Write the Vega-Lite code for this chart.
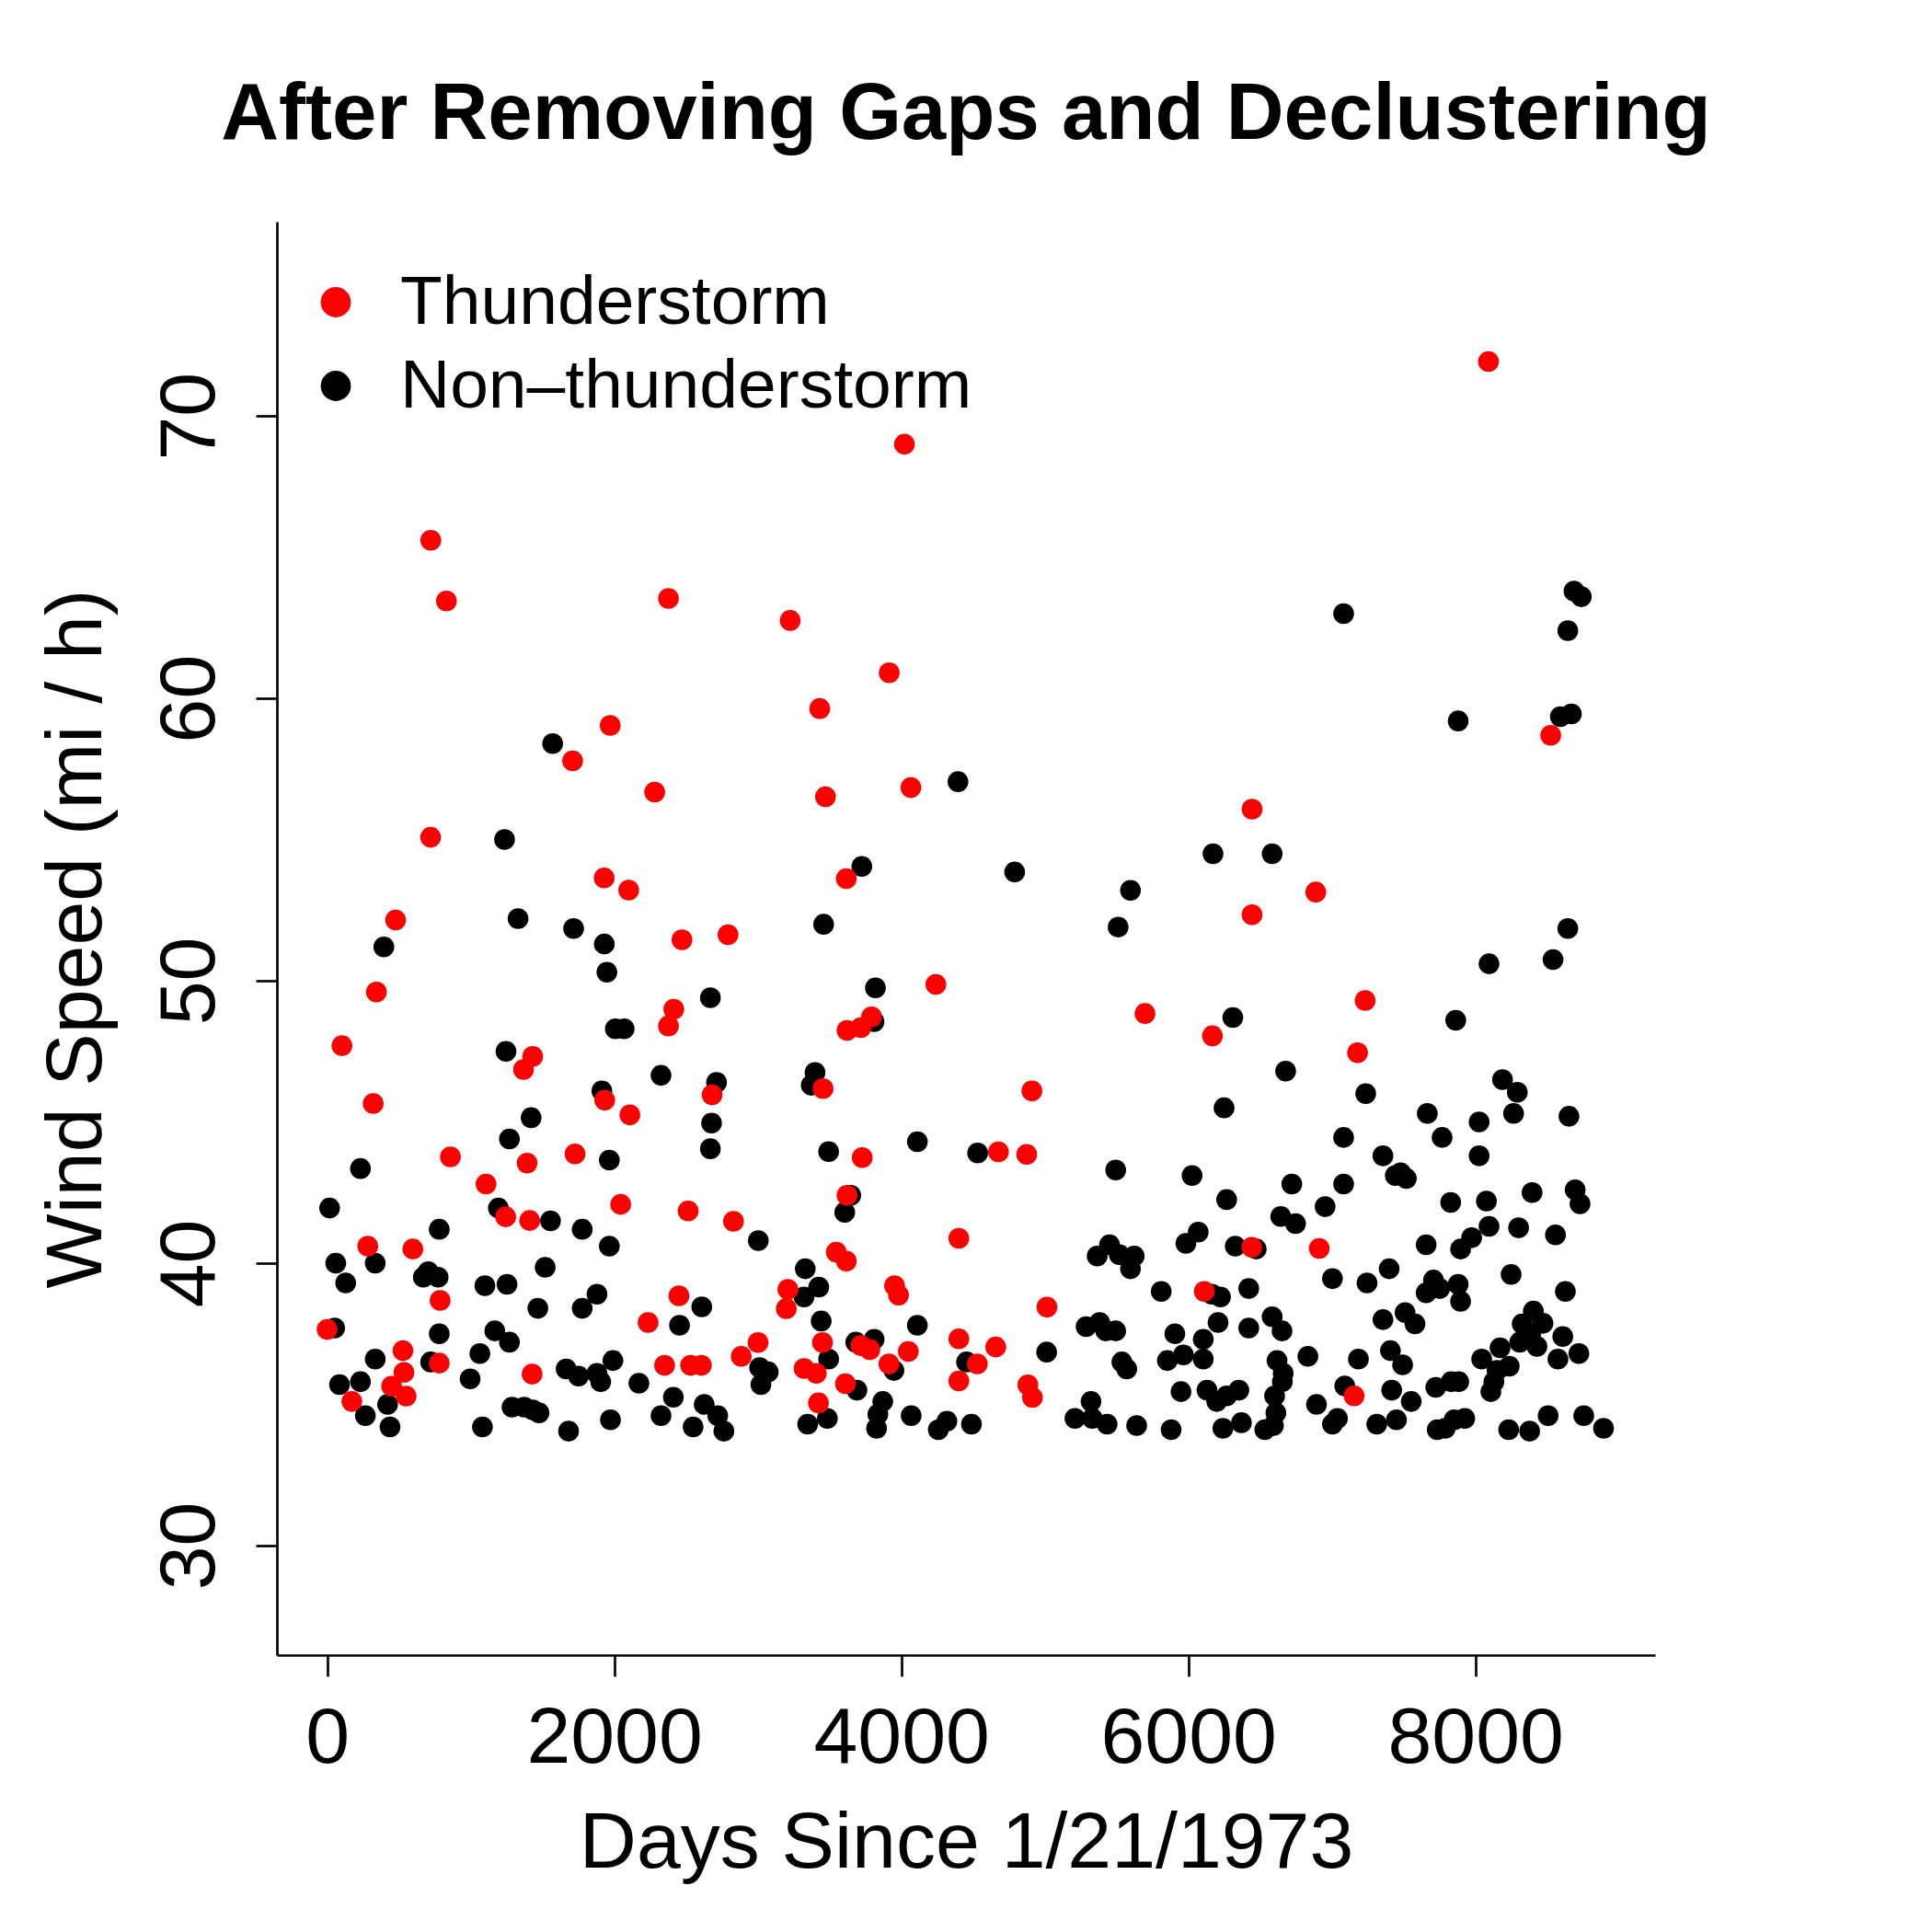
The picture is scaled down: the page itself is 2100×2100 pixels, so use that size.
{
"$schema": "https://vega.github.io/schema/vega-lite/v6.json",
"width": 1498, "height": 1558,
"autosize": {"type": "none"},
"padding": {"left": 301, "top": 241, "right": 301, "bottom": 301},
"background": "white",
"title": {"text": "After Removing Gaps and Declustering", "font": "Liberation Sans", "fontSize": 87, "fontWeight": "bold", "anchor": "middle", "frame": "group", "baseline": "alphabetic", "offset": 3, "color": "black"},
"data": {"values": [
{"d":17,"w":41.95,"t":"Non–thunderstorm"},{"d":52,"w":37.7,"t":"Non–thunderstorm"},{"d":60,"w":40.0,"t":"Non–thunderstorm"},{"d":86,"w":35.7,"t":"Non–thunderstorm"},{"d":129,"w":39.3,"t":"Non–thunderstorm"},{"d":232,"w":43.35,"t":"Non–thunderstorm"},{"d":232,"w":35.8,"t":"Non–thunderstorm"},{"d":266,"w":34.6,"t":"Non–thunderstorm"},{"d":335,"w":36.6,"t":"Non–thunderstorm"},{"d":335,"w":40.0,"t":"Non–thunderstorm"},{"d":395,"w":51.2,"t":"Non–thunderstorm"},{"d":421,"w":35.0,"t":"Non–thunderstorm"},{"d":438,"w":34.2,"t":"Non–thunderstorm"},{"d":670,"w":39.5,"t":"Non–thunderstorm"},{"d":704,"w":39.7,"t":"Non–thunderstorm"},{"d":721,"w":36.5,"t":"Non–thunderstorm"},{"d":773,"w":39.5,"t":"Non–thunderstorm"},{"d":781,"w":41.2,"t":"Non–thunderstorm"},{"d":781,"w":37.5,"t":"Non–thunderstorm"},{"d":996,"w":35.9,"t":"Non–thunderstorm"},{"d":1064,"w":36.8,"t":"Non–thunderstorm"},{"d":1082,"w":34.2,"t":"Non–thunderstorm"},{"d":1099,"w":39.2,"t":"Non–thunderstorm"},{"d":1168,"w":37.6,"t":"Non–thunderstorm"},{"d":1193,"w":41.95,"t":"Non–thunderstorm"},{"d":1236,"w":55.0,"t":"Non–thunderstorm"},{"d":1246,"w":47.5,"t":"Non–thunderstorm"},{"d":1253,"w":39.25,"t":"Non–thunderstorm"},{"d":1270,"w":44.4,"t":"Non–thunderstorm"},{"d":1270,"w":37.2,"t":"Non–thunderstorm"},{"d":1288,"w":34.9,"t":"Non–thunderstorm"},{"d":1330,"w":52.2,"t":"Non–thunderstorm"},{"d":1373,"w":34.9,"t":"Non–thunderstorm"},{"d":1421,"w":45.15,"t":"Non–thunderstorm"},{"d":1433,"w":34.8,"t":"Non–thunderstorm"},{"d":1476,"w":34.7,"t":"Non–thunderstorm"},{"d":1468,"w":38.4,"t":"Non–thunderstorm"},{"d":1519,"w":39.85,"t":"Non–thunderstorm"},{"d":1556,"w":41.5,"t":"Non–thunderstorm"},{"d":1571,"w":58.4,"t":"Non–thunderstorm"},{"d":1665,"w":36.25,"t":"Non–thunderstorm"},{"d":1682,"w":34.05,"t":"Non–thunderstorm"},{"d":1717,"w":51.85,"t":"Non–thunderstorm"},{"d":1751,"w":36.0,"t":"Non–thunderstorm"},{"d":1777,"w":41.2,"t":"Non–thunderstorm"},{"d":1777,"w":38.4,"t":"Non–thunderstorm"},{"d":1880,"w":38.9,"t":"Non–thunderstorm"},{"d":1880,"w":36.1,"t":"Non–thunderstorm"},{"d":1906,"w":35.8,"t":"Non–thunderstorm"},{"d":1914,"w":46.1,"t":"Non–thunderstorm"},{"d":1931,"w":51.3,"t":"Non–thunderstorm"},{"d":1949,"w":50.3,"t":"Non–thunderstorm"},{"d":1966,"w":40.6,"t":"Non–thunderstorm"},{"d":1966,"w":43.65,"t":"Non–thunderstorm"},{"d":1974,"w":34.45,"t":"Non–thunderstorm"},{"d":1991,"w":36.55,"t":"Non–thunderstorm"},{"d":2008,"w":48.3,"t":"Non–thunderstorm"},{"d":2069,"w":48.3,"t":"Non–thunderstorm"},{"d":2172,"w":35.75,"t":"Non–thunderstorm"},{"d":2326,"w":46.65,"t":"Non–thunderstorm"},{"d":2326,"w":34.6,"t":"Non–thunderstorm"},{"d":2412,"w":35.25,"t":"Non–thunderstorm"},{"d":2455,"w":37.8,"t":"Non–thunderstorm"},{"d":2550,"w":34.2,"t":"Non–thunderstorm"},{"d":2610,"w":38.45,"t":"Non–thunderstorm"},{"d":2627,"w":35.0,"t":"Non–thunderstorm"},{"d":2670,"w":49.4,"t":"Non–thunderstorm"},{"d":2670,"w":44.05,"t":"Non–thunderstorm"},{"d":2678,"w":44.96,"t":"Non–thunderstorm"},{"d":2713,"w":46.4,"t":"Non–thunderstorm"},{"d":2721,"w":34.6,"t":"Non–thunderstorm"},{"d":2764,"w":34.05,"t":"Non–thunderstorm"},{"d":3004,"w":40.8,"t":"Non–thunderstorm"},{"d":3013,"w":36.3,"t":"Non–thunderstorm"},{"d":3022,"w":35.7,"t":"Non–thunderstorm"},{"d":3073,"w":36.15,"t":"Non–thunderstorm"},{"d":3331,"w":39.8,"t":"Non–thunderstorm"},{"d":3322,"w":38.8,"t":"Non–thunderstorm"},{"d":3348,"w":34.3,"t":"Non–thunderstorm"},{"d":3399,"w":46.75,"t":"Non–thunderstorm"},{"d":3373,"w":46.3,"t":"Non–thunderstorm"},{"d":3425,"w":39.15,"t":"Non–thunderstorm"},{"d":3442,"w":37.95,"t":"Non–thunderstorm"},{"d":3459,"w":52.0,"t":"Non–thunderstorm"},{"d":3494,"w":43.95,"t":"Non–thunderstorm"},{"d":3494,"w":36.6,"t":"Non–thunderstorm"},{"d":3485,"w":34.5,"t":"Non–thunderstorm"},{"d":3606,"w":41.8,"t":"Non–thunderstorm"},{"d":3648,"w":42.4,"t":"Non–thunderstorm"},{"d":3683,"w":37.2,"t":"Non–thunderstorm"},{"d":3691,"w":35.5,"t":"Non–thunderstorm"},{"d":3725,"w":54.05,"t":"Non–thunderstorm"},{"d":3811,"w":37.3,"t":"Non–thunderstorm"},{"d":3810,"w":48.55,"t":"Non–thunderstorm"},{"d":3820,"w":49.75,"t":"Non–thunderstorm"},{"d":3828,"w":34.15,"t":"Non–thunderstorm"},{"d":3837,"w":34.65,"t":"Non–thunderstorm"},{"d":3871,"w":35.1,"t":"Non–thunderstorm"},{"d":3949,"w":36.2,"t":"Non–thunderstorm"},{"d":4112,"w":44.3,"t":"Non–thunderstorm"},{"d":4112,"w":37.8,"t":"Non–thunderstorm"},{"d":4069,"w":34.6,"t":"Non–thunderstorm"},{"d":4258,"w":34.1,"t":"Non–thunderstorm"},{"d":4318,"w":34.4,"t":"Non–thunderstorm"},{"d":4395,"w":57.05,"t":"Non–thunderstorm"},{"d":4455,"w":36.5,"t":"Non–thunderstorm"},{"d":4489,"w":34.3,"t":"Non–thunderstorm"},{"d":4532,"w":43.9,"t":"Non–thunderstorm"},{"d":4790,"w":53.85,"t":"Non–thunderstorm"},{"d":5013,"w":36.85,"t":"Non–thunderstorm"},{"d":5210,"w":34.5,"t":"Non–thunderstorm"},{"d":5288,"w":37.75,"t":"Non–thunderstorm"},{"d":5322,"w":35.1,"t":"Non–thunderstorm"},{"d":5331,"w":34.5,"t":"Non–thunderstorm"},{"d":5365,"w":40.25,"t":"Non–thunderstorm"},{"d":5382,"w":37.9,"t":"Non–thunderstorm"},{"d":5425,"w":37.6,"t":"Non–thunderstorm"},{"d":5434,"w":34.3,"t":"Non–thunderstorm"},{"d":5451,"w":40.65,"t":"Non–thunderstorm"},{"d":5494,"w":37.6,"t":"Non–thunderstorm"},{"d":5494,"w":43.3,"t":"Non–thunderstorm"},{"d":5519,"w":40.3,"t":"Non–thunderstorm"},{"d":5511,"w":51.9,"t":"Non–thunderstorm"},{"d":5537,"w":36.5,"t":"Non–thunderstorm"},{"d":5571,"w":36.25,"t":"Non–thunderstorm"},{"d":5597,"w":53.2,"t":"Non–thunderstorm"},{"d":5597,"w":39.8,"t":"Non–thunderstorm"},{"d":5623,"w":40.25,"t":"Non–thunderstorm"},{"d":5640,"w":34.25,"t":"Non–thunderstorm"},{"d":5811,"w":39.0,"t":"Non–thunderstorm"},{"d":5854,"w":36.55,"t":"Non–thunderstorm"},{"d":5880,"w":34.1,"t":"Non–thunderstorm"},{"d":5906,"w":37.5,"t":"Non–thunderstorm"},{"d":5949,"w":35.45,"t":"Non–thunderstorm"},{"d":5966,"w":36.75,"t":"Non–thunderstorm"},{"d":5983,"w":40.7,"t":"Non–thunderstorm"},{"d":6026,"w":43.1,"t":"Non–thunderstorm"},{"d":6069,"w":41.1,"t":"Non–thunderstorm"},{"d":6104,"w":36.6,"t":"Non–thunderstorm"},{"d":6104,"w":37.3,"t":"Non–thunderstorm"},{"d":6130,"w":35.5,"t":"Non–thunderstorm"},{"d":6164,"w":38.9,"t":"Non–thunderstorm"},{"d":6172,"w":54.5,"t":"Non–thunderstorm"},{"d":6198,"w":35.1,"t":"Non–thunderstorm"},{"d":6207,"w":37.9,"t":"Non–thunderstorm"},{"d":6224,"w":38.8,"t":"Non–thunderstorm"},{"d":6249,"w":45.5,"t":"Non–thunderstorm"},{"d":6241,"w":34.15,"t":"Non–thunderstorm"},{"d":6267,"w":42.25,"t":"Non–thunderstorm"},{"d":6267,"w":35.3,"t":"Non–thunderstorm"},{"d":6310,"w":48.7,"t":"Non–thunderstorm"},{"d":6327,"w":40.6,"t":"Non–thunderstorm"},{"d":6352,"w":35.5,"t":"Non–thunderstorm"},{"d":6370,"w":34.35,"t":"Non–thunderstorm"},{"d":6421,"w":39.1,"t":"Non–thunderstorm"},{"d":6421,"w":37.7,"t":"Non–thunderstorm"},{"d":6473,"w":40.5,"t":"Non–thunderstorm"},{"d":6533,"w":34.1,"t":"Non–thunderstorm"},{"d":6584,"w":54.5,"t":"Non–thunderstorm"},{"d":6584,"w":38.1,"t":"Non–thunderstorm"},{"d":6593,"w":34.25,"t":"Non–thunderstorm"},{"d":6601,"w":35.3,"t":"Non–thunderstorm"},{"d":6618,"w":36.55,"t":"Non–thunderstorm"},{"d":6610,"w":34.7,"t":"Non–thunderstorm"},{"d":6644,"w":41.65,"t":"Non–thunderstorm"},{"d":6653,"w":37.6,"t":"Non–thunderstorm"},{"d":6661,"w":36.1,"t":"Non–thunderstorm"},{"d":6655,"w":35.8,"t":"Non–thunderstorm"},{"d":6678,"w":46.8,"t":"Non–thunderstorm"},{"d":6721,"w":42.8,"t":"Non–thunderstorm"},{"d":6747,"w":41.4,"t":"Non–thunderstorm"},{"d":6833,"w":36.7,"t":"Non–thunderstorm"},{"d":6893,"w":35.0,"t":"Non–thunderstorm"},{"d":6953,"w":42.0,"t":"Non–thunderstorm"},{"d":7004,"w":39.45,"t":"Non–thunderstorm"},{"d":7004,"w":34.3,"t":"Non–thunderstorm"},{"d":7039,"w":34.5,"t":"Non–thunderstorm"},{"d":7082,"w":63.0,"t":"Non–thunderstorm"},{"d":7082,"w":44.45,"t":"Non–thunderstorm"},{"d":7082,"w":42.8,"t":"Non–thunderstorm"},{"d":7090,"w":35.65,"t":"Non–thunderstorm"},{"d":7185,"w":36.6,"t":"Non–thunderstorm"},{"d":7236,"w":46.0,"t":"Non–thunderstorm"},{"d":7245,"w":39.3,"t":"Non–thunderstorm"},{"d":7313,"w":34.3,"t":"Non–thunderstorm"},{"d":7356,"w":43.8,"t":"Non–thunderstorm"},{"d":7356,"w":38.0,"t":"Non–thunderstorm"},{"d":7399,"w":39.8,"t":"Non–thunderstorm"},{"d":7408,"w":36.9,"t":"Non–thunderstorm"},{"d":7417,"w":35.5,"t":"Non–thunderstorm"},{"d":7442,"w":43.1,"t":"Non–thunderstorm"},{"d":7480,"w":43.2,"t":"Non–thunderstorm"},{"d":7450,"w":34.45,"t":"Non–thunderstorm"},{"d":7493,"w":36.4,"t":"Non–thunderstorm"},{"d":7519,"w":43.0,"t":"Non–thunderstorm"},{"d":7510,"w":38.25,"t":"Non–thunderstorm"},{"d":7553,"w":35.1,"t":"Non–thunderstorm"},{"d":7579,"w":37.85,"t":"Non–thunderstorm"},{"d":7657,"w":40.65,"t":"Non–thunderstorm"},{"d":7665,"w":45.3,"t":"Non–thunderstorm"},{"d":7657,"w":38.95,"t":"Non–thunderstorm"},{"d":7724,"w":35.6,"t":"Non–thunderstorm"},{"d":7734,"w":34.1,"t":"Non–thunderstorm"},{"d":7708,"w":39.4,"t":"Non–thunderstorm"},{"d":7751,"w":39.1,"t":"Non–thunderstorm"},{"d":7768,"w":44.45,"t":"Non–thunderstorm"},{"d":7790,"w":34.15,"t":"Non–thunderstorm"},{"d":7852,"w":34.45,"t":"Non–thunderstorm"},{"d":7828,"w":42.15,"t":"Non–thunderstorm"},{"d":7831,"w":35.8,"t":"Non–thunderstorm"},{"d":7863,"w":48.6,"t":"Non–thunderstorm"},{"d":7880,"w":59.2,"t":"Non–thunderstorm"},{"d":7880,"w":39.25,"t":"Non–thunderstorm"},{"d":7897,"w":40.5,"t":"Non–thunderstorm"},{"d":7897,"w":38.65,"t":"Non–thunderstorm"},{"d":7926,"w":34.5,"t":"Non–thunderstorm"},{"d":7884,"w":35.8,"t":"Non–thunderstorm"},{"d":7974,"w":40.9,"t":"Non–thunderstorm"},{"d":8026,"w":45.0,"t":"Non–thunderstorm"},{"d":8026,"w":43.8,"t":"Non–thunderstorm"},{"d":8044,"w":36.6,"t":"Non–thunderstorm"},{"d":8077,"w":42.2,"t":"Non–thunderstorm"},{"d":8095,"w":41.3,"t":"Non–thunderstorm"},{"d":8095,"w":50.6,"t":"Non–thunderstorm"},{"d":8108,"w":35.45,"t":"Non–thunderstorm"},{"d":8129,"w":35.8,"t":"Non–thunderstorm"},{"d":8151,"w":36.2,"t":"Non–thunderstorm"},{"d":8172,"w":37.0,"t":"Non–thunderstorm"},{"d":8189,"w":46.5,"t":"Non–thunderstorm"},{"d":8236,"w":36.35,"t":"Non–thunderstorm"},{"d":8232,"w":34.1,"t":"Non–thunderstorm"},{"d":8249,"w":39.6,"t":"Non–thunderstorm"},{"d":8266,"w":45.3,"t":"Non–thunderstorm"},{"d":8292,"w":46.05,"t":"Non–thunderstorm"},{"d":8301,"w":41.25,"t":"Non–thunderstorm"},{"d":8309,"w":37.2,"t":"Non–thunderstorm"},{"d":8326,"w":37.85,"t":"Non–thunderstorm"},{"d":8386,"w":37.5,"t":"Non–thunderstorm"},{"d":8378,"w":34.05,"t":"Non–thunderstorm"},{"d":8395,"w":42.5,"t":"Non–thunderstorm"},{"d":8404,"w":38.3,"t":"Non–thunderstorm"},{"d":8429,"w":37.05,"t":"Non–thunderstorm"},{"d":8471,"w":37.87,"t":"Non–thunderstorm"},{"d":8507,"w":34.6,"t":"Non–thunderstorm"},{"d":8541,"w":50.75,"t":"Non–thunderstorm"},{"d":8558,"w":41.0,"t":"Non–thunderstorm"},{"d":8575,"w":36.6,"t":"Non–thunderstorm"},{"d":8592,"w":59.35,"t":"Non–thunderstorm"},{"d":8609,"w":37.4,"t":"Non–thunderstorm"},{"d":8627,"w":39.0,"t":"Non–thunderstorm"},{"d":8644,"w":62.4,"t":"Non–thunderstorm"},{"d":8644,"w":51.85,"t":"Non–thunderstorm"},{"d":8652,"w":45.2,"t":"Non–thunderstorm"},{"d":8669,"w":59.45,"t":"Non–thunderstorm"},{"d":8687,"w":63.8,"t":"Non–thunderstorm"},{"d":8695,"w":42.6,"t":"Non–thunderstorm"},{"d":8721,"w":36.8,"t":"Non–thunderstorm"},{"d":8729,"w":42.1,"t":"Non–thunderstorm"},{"d":8738,"w":63.6,"t":"Non–thunderstorm"},{"d":8755,"w":34.6,"t":"Non–thunderstorm"},{"d":8893,"w":34.15,"t":"Non–thunderstorm"},
{"d":0,"w":37.65,"t":"Thunderstorm"},{"d":103,"w":47.7,"t":"Thunderstorm"},{"d":172,"w":35.1,"t":"Thunderstorm"},{"d":283,"w":40.6,"t":"Thunderstorm"},{"d":321,"w":45.65,"t":"Thunderstorm"},{"d":343,"w":49.6,"t":"Thunderstorm"},{"d":477,"w":52.15,"t":"Thunderstorm"},{"d":449,"w":35.64,"t":"Thunderstorm"},{"d":528,"w":36.9,"t":"Thunderstorm"},{"d":535,"w":36.13,"t":"Thunderstorm"},{"d":550,"w":35.29,"t":"Thunderstorm"},{"d":597,"w":40.5,"t":"Thunderstorm"},{"d":722,"w":65.6,"t":"Thunderstorm"},{"d":721,"w":55.08,"t":"Thunderstorm"},{"d":787,"w":38.68,"t":"Thunderstorm"},{"d":781,"w":36.46,"t":"Thunderstorm"},{"d":831,"w":63.45,"t":"Thunderstorm"},{"d":859,"w":43.76,"t":"Thunderstorm"},{"d":1107,"w":42.8,"t":"Thunderstorm"},{"d":1244,"w":41.64,"t":"Thunderstorm"},{"d":1368,"w":46.86,"t":"Thunderstorm"},{"d":1432,"w":47.32,"t":"Thunderstorm"},{"d":1393,"w":43.54,"t":"Thunderstorm"},{"d":1411,"w":41.51,"t":"Thunderstorm"},{"d":1428,"w":36.07,"t":"Thunderstorm"},{"d":1710,"w":57.79,"t":"Thunderstorm"},{"d":1727,"w":43.87,"t":"Thunderstorm"},{"d":1930,"w":53.64,"t":"Thunderstorm"},{"d":1934,"w":45.77,"t":"Thunderstorm"},{"d":1972,"w":59.04,"t":"Thunderstorm"},{"d":2045,"w":42.08,"t":"Thunderstorm"},{"d":2101,"w":53.21,"t":"Thunderstorm"},{"d":2109,"w":45.25,"t":"Thunderstorm"},{"d":2236,"w":37.9,"t":"Thunderstorm"},{"d":2282,"w":56.68,"t":"Thunderstorm"},{"d":2378,"w":63.54,"t":"Thunderstorm"},{"d":2351,"w":36.38,"t":"Thunderstorm"},{"d":2378,"w":48.4,"t":"Thunderstorm"},{"d":2415,"w":48.99,"t":"Thunderstorm"},{"d":2451,"w":38.84,"t":"Thunderstorm"},{"d":2472,"w":51.45,"t":"Thunderstorm"},{"d":2515,"w":41.85,"t":"Thunderstorm"},{"d":2532,"w":36.38,"t":"Thunderstorm"},{"d":2607,"w":36.38,"t":"Thunderstorm"},{"d":2682,"w":45.96,"t":"Thunderstorm"},{"d":2793,"w":51.63,"t":"Thunderstorm"},{"d":2831,"w":41.48,"t":"Thunderstorm"},{"d":2885,"w":36.7,"t":"Thunderstorm"},{"d":3002,"w":37.19,"t":"Thunderstorm"},{"d":3226,"w":62.76,"t":"Thunderstorm"},{"d":3210,"w":39.07,"t":"Thunderstorm"},{"d":3199,"w":38.39,"t":"Thunderstorm"},{"d":3323,"w":36.27,"t":"Thunderstorm"},{"d":3408,"w":36.1,"t":"Thunderstorm"},{"d":3423,"w":35.05,"t":"Thunderstorm"},{"d":3432,"w":59.64,"t":"Thunderstorm"},{"d":3451,"w":37.19,"t":"Thunderstorm"},{"d":3455,"w":46.18,"t":"Thunderstorm"},{"d":3472,"w":56.52,"t":"Thunderstorm"},{"d":3617,"w":53.62,"t":"Thunderstorm"},{"d":3611,"w":35.73,"t":"Thunderstorm"},{"d":3622,"w":42.4,"t":"Thunderstorm"},{"d":3617,"w":40.07,"t":"Thunderstorm"},{"d":3547,"w":40.39,"t":"Thunderstorm"},{"d":3622,"w":48.24,"t":"Thunderstorm"},{"d":3718,"w":48.34,"t":"Thunderstorm"},{"d":3718,"w":37.08,"t":"Thunderstorm"},{"d":3728,"w":43.74,"t":"Thunderstorm"},{"d":3793,"w":48.72,"t":"Thunderstorm"},{"d":3781,"w":36.94,"t":"Thunderstorm"},{"d":3916,"w":60.91,"t":"Thunderstorm"},{"d":3914,"w":36.43,"t":"Thunderstorm"},{"d":3953,"w":39.2,"t":"Thunderstorm"},{"d":3981,"w":38.87,"t":"Thunderstorm"},{"d":4022,"w":69.0,"t":"Thunderstorm"},{"d":4049,"w":36.87,"t":"Thunderstorm"},{"d":4067,"w":56.84,"t":"Thunderstorm"},{"d":4241,"w":49.87,"t":"Thunderstorm"},{"d":4401,"w":40.88,"t":"Thunderstorm"},{"d":4401,"w":37.32,"t":"Thunderstorm"},{"d":4401,"w":35.83,"t":"Thunderstorm"},{"d":4530,"w":36.43,"t":"Thunderstorm"},{"d":4658,"w":37.03,"t":"Thunderstorm"},{"d":4677,"w":43.94,"t":"Thunderstorm"},{"d":4874,"w":43.85,"t":"Thunderstorm"},{"d":4882,"w":35.69,"t":"Thunderstorm"},{"d":4914,"w":35.24,"t":"Thunderstorm"},{"d":4910,"w":46.1,"t":"Thunderstorm"},{"d":5015,"w":38.44,"t":"Thunderstorm"},{"d":5698,"w":48.84,"t":"Thunderstorm"},{"d":6111,"w":39.0,"t":"Thunderstorm"},{"d":6168,"w":48.05,"t":"Thunderstorm"},{"d":6444,"w":56.08,"t":"Thunderstorm"},{"d":6444,"w":52.34,"t":"Thunderstorm"},{"d":6442,"w":40.56,"t":"Thunderstorm"},{"d":6888,"w":53.14,"t":"Thunderstorm"},{"d":6912,"w":40.52,"t":"Thunderstorm"},{"d":7155,"w":35.3,"t":"Thunderstorm"},{"d":7179,"w":47.45,"t":"Thunderstorm"},{"d":7232,"w":49.3,"t":"Thunderstorm"},{"d":8091,"w":71.93,"t":"Thunderstorm"},{"d":8525,"w":58.69,"t":"Thunderstorm"}
]},
"mark": {"type": "point", "filled": true, "opacity": 1, "size": 510, "strokeWidth": 0, "shape": "circle"},
"encoding": {
  "x": {"field": "d", "type": "quantitative",
        "scale": {"domain": [-350, 9252], "nice": false, "zero": false},
        "axis": {"values": [0, 2000, 4000, 6000, 8000], "format": "d", "title": "Days Since 1/21/1973",
                 "grid": false, "domainColor": "black", "domainWidth": 2.7, "tickColor": "black", "tickWidth": 2.7, "tickSize": 23,
                 "labelFont": "Liberation Sans", "labelFontSize": 86, "labelColor": "black", "labelPadding": 93, "labelBaseline": "alphabetic",
                 "labelFlush": false, "labelOverlap": false, "labelLimit": 1000,
                 "titleFont": "Liberation Sans", "titleFontSize": 86, "titleFontWeight": "normal", "titleColor": "black", "titleLimit": 2000,
                 "titleBaseline": "alphabetic", "titleAlign": "center", "titleX": 749, "titleY": 230}},
  "y": {"field": "w", "type": "quantitative",
        "scale": {"domain": [26.12, 76.88], "nice": false, "zero": false},
        "axis": {"values": [30, 40, 50, 60, 70], "title": "Wind Speed (mi / h)",
                 "grid": false, "domainColor": "black", "domainWidth": 2.7, "tickColor": "black", "tickWidth": 2.7, "tickSize": 23,
                 "labelFont": "Liberation Sans", "labelFontSize": 86, "labelColor": "black", "labelPadding": 46, "labelAngle": -90,
                 "labelAlign": "center", "labelBaseline": "alphabetic", "labelFlush": false, "labelOverlap": false, "labelLimit": 1000,
                 "titleFont": "Liberation Sans", "titleFontSize": 86, "titleFontWeight": "normal", "titleColor": "black", "titleLimit": 2000,
                 "titleAngle": -90, "titleBaseline": "alphabetic", "titleAlign": "center", "titleX": -192, "titleY": 779}},
  "color": {"field": "t", "type": "nominal",
            "scale": {"domain": ["Thunderstorm", "Non–thunderstorm"], "range": ["#FF0000", "#000000"]},
            "legend": {"orient": "none", "legendX": 26.5, "legendY": 50, "title": null, "padding": 0,
                       "labelFont": "Liberation Sans", "labelFontSize": 75, "labelColor": "black", "labelOffset": 32.5,
                       "symbolSize": 1075, "symbolType": "circle", "symbolStrokeWidth": 0, "symbolOpacity": 1,
                       "rowPadding": 15, "labelLimit": 1000}}
},
"config": {"view": {"stroke": null}}
}
